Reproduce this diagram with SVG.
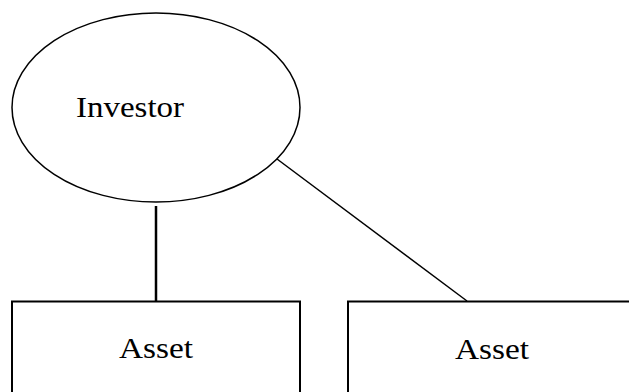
<svg xmlns="http://www.w3.org/2000/svg" width="629" height="392" viewBox="0 0 629 392">
<style>
.shape{fill:#fff;stroke:#000;stroke-width:1.5}
.box{fill:#fff;stroke:#000;stroke-width:2}
.lbl{font-family:"Liberation Serif","DejaVu Serif",serif;font-size:30px;fill:#000}
.conn{stroke:#000;fill:none}
</style>
<rect width="629" height="392" fill="#fff"/>
<g id="connectors">
<line class="conn" x1="156" y1="206" x2="156" y2="301" stroke-width="2.5"/>
<line class="conn" x1="277" y1="159" x2="467" y2="301" stroke-width="1.5"/>
</g>
<g id="investor">
<ellipse class="shape" cx="156" cy="107.5" rx="144" ry="94.5"/>
<text class="lbl" x="76" y="117" textLength="108" lengthAdjust="spacingAndGlyphs">Investor</text>
</g>
<g id="asset1">
<rect class="box" x="12" y="301.5" width="288" height="110"/>
<text class="lbl" x="119" y="358" textLength="74" lengthAdjust="spacingAndGlyphs">Asset</text>
</g>
<g id="asset2">
<rect class="box" x="348" y="301.5" width="300" height="110"/>
<text class="lbl" x="455" y="359" textLength="74" lengthAdjust="spacingAndGlyphs">Asset</text>
</g>
</svg>
